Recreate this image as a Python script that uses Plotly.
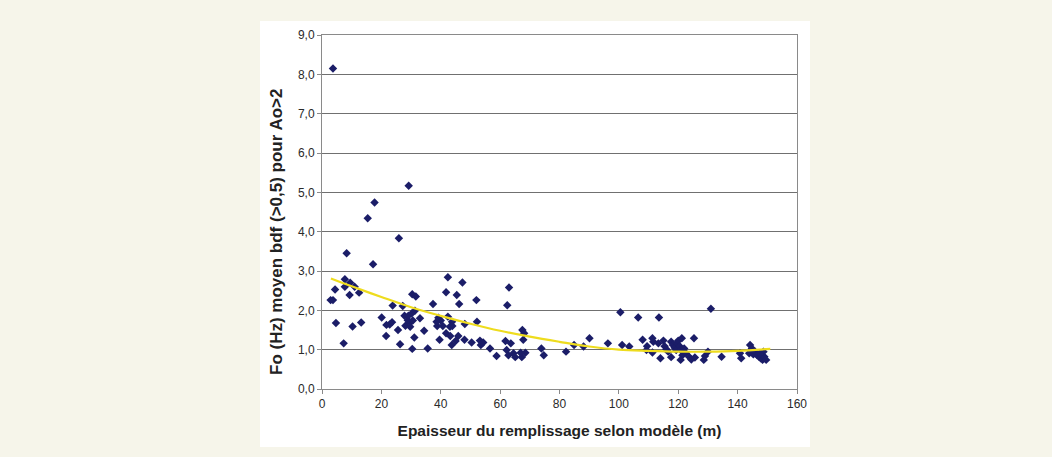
import plotly.graph_objects as go

# Epaisseur du remplissage (m) and Fo (Hz)
thickness = [3.7, 29.2, 17.7, 15.4, 25.9, 8.3, 17.2, 42.4, 47.3, 63.0,
             7.7, 9.5, 11.0, 7.7, 4.4, 12.5, 9.3, 2.9, 3.7, 41.8,
             45.4, 30.4, 31.6, 52.0, 46.2, 37.4, 62.4, 27.2, 23.8, 100.5,
             106.5, 113.5, 131.0, 27.8, 20.1, 4.7, 10.3, 13.2, 21.7, 22.8,
             23.6, 25.6, 21.6, 7.3, 26.3, 30.4, 35.6, 31.1, 28.1, 29.7,
             28.9, 30.6, 31.3, 33.0, 34.4, 29.7, 29.1, 30.2,
             39.2, 40.0, 38.8, 40.7, 38.6, 42.4, 43.8, 43.1, 41.8, 43.2,
             45.9, 39.6, 43.7, 45.0, 43.9, 48.1, 48.0, 50.4, 52.2, 53.2,
             53.5, 54.3, 56.6, 58.8, 61.8, 63.6, 62.2, 62.8, 64.5, 65.1,
             67.5, 68.1, 67.8, 68.5, 67.3, 66.9, 73.9, 74.7, 82.2, 84.9,
             88.1, 90.1, 96.3, 101.1, 103.5, 108.0, 109.5, 109.3, 111.3, 111.6,
             111.3, 114.0, 113.3, 115.0, 115.4, 116.0, 116.6, 117.6, 117.6, 118.2,
             118.8, 119.3, 119.6, 120.0, 120.5, 120.9, 121.4, 120.8, 121.2, 122.0,
             122.6, 123.8, 124.4, 125.3, 125.6, 128.6, 129.0, 130.0, 134.6, 140.8,
             141.2, 144.2, 144.8, 143.9, 145.3, 145.9, 146.6, 147.2, 147.8, 148.4,
             149.0, 149.6, 148.7, 147.5]
fo = [8.15, 5.17, 4.74, 4.34, 3.83, 3.45, 3.17, 2.84, 2.71, 2.58,
      2.79, 2.70, 2.60, 2.60, 2.53, 2.45, 2.39, 2.26, 2.26, 2.46,
      2.39, 2.41, 2.35, 2.26, 2.16, 2.16, 2.13, 2.11, 2.12, 1.95,
      1.82, 1.82, 2.04, 1.86, 1.82, 1.68, 1.59, 1.69, 1.63, 1.64,
      1.70, 1.50, 1.35, 1.16, 1.14, 1.02, 1.03, 1.31, 1.61, 1.69,
      1.75, 1.74, 1.99, 1.80, 1.48, 1.58, 1.86, 1.92,
      1.81, 1.74, 1.60, 1.60, 1.71, 1.84, 1.71, 1.58, 1.42, 1.35,
      1.35, 1.25, 1.12, 1.22, 1.60, 1.65, 1.25, 1.18, 1.71, 1.23,
      1.12, 1.18, 1.03, 0.84, 1.22, 1.16, 0.99, 0.86, 0.91, 0.81,
      1.50, 1.42, 1.25, 0.92, 0.81, 0.92, 1.03, 0.86, 0.95, 1.12,
      1.08, 1.29, 1.16, 1.12, 1.08, 1.25, 1.09, 0.99, 1.29, 1.20,
      0.93, 0.78, 1.16, 1.23, 1.09, 1.01, 0.95, 0.81, 1.20, 1.12,
      1.05, 0.99, 1.16, 1.23, 1.09, 0.99, 0.86, 0.74, 1.29, 1.03,
      0.91, 0.81, 0.75, 1.29, 0.80, 0.74, 0.84, 0.95, 0.82, 0.91,
      0.78, 1.12, 1.03, 0.91, 0.88, 0.95, 0.86, 0.82, 0.78, 0.74,
      0.82, 0.74, 0.95, 0.91]

# Polynomial trendline
trend_x = [3, 10, 20, 30, 40, 50, 60, 70, 80, 90, 100, 110, 120, 130, 140, 151]
trend_y = [2.81, 2.61, 2.34, 2.08, 1.86, 1.66, 1.48, 1.33, 1.20, 1.08,
           1.00, 0.97, 0.95, 0.95, 0.97, 1.02]

x_ticks = [0, 20, 40, 60, 80, 100, 120, 140, 160]
y_ticks = [0, 1, 2, 3, 4, 5, 6, 7, 8, 9]
y_tick_labels = ["0,0", "1,0", "2,0", "3,0", "4,0", "5,0", "6,0", "7,0", "8,0", "9,0"]

W, H = 1052, 457
L, R, T, B = 322, 797, 35, 389
pw, ph = R - L, B - T

fig = go.Figure()
fig.add_trace(go.Scatter(
    x=thickness, y=fo, mode="markers",
    marker=dict(symbol="diamond", size=6.5, color="#1b1d68"),
    showlegend=False,
))
fig.add_trace(go.Scatter(
    x=trend_x, y=trend_y, mode="lines",
    line=dict(color="#eedc1e", width=2.2, shape="spline"),
    showlegend=False,
))

# white card behind the chart
fig.add_shape(type="rect", xref="paper", yref="paper",
              x0=(260 - L) / pw, x1=(810 - L) / pw,
              y0=(B - 447) / ph, y1=(B - 21) / ph,
              fillcolor="white", line=dict(width=0), layer="below")

# y-axis title (placed like the reference, slightly below the plot centre)
fig.add_annotation(
    text="<b>Fo (Hz) moyen bdf (>0,5) pour Ao>2</b>",
    xref="paper", yref="paper",
    x=(277 - L) / pw, y=(B - 232) / ph,
    textangle=-90, showarrow=False, xanchor="center", yanchor="middle",
    font=dict(size=17, color="#222222"),
)

fig.update_layout(
    width=W, height=H,
    margin=dict(l=L, r=W - R, t=T, b=H - B),
    paper_bgcolor="#f6f5ea",
    plot_bgcolor="white",
    font=dict(family="Liberation Sans, Arial, sans-serif", color="#333333"),
    xaxis=dict(
        range=[0, 160], tickvals=x_ticks, ticktext=[str(v) for v in x_ticks],
        showgrid=False, zeroline=False,
        showline=True, linecolor="#8a8a8a", linewidth=1, mirror=True,
        ticks="outside", ticklen=4, tickcolor="#8a8a8a",
        tickfont=dict(size=12, color="#2a2a2a"),
        title=dict(text="<b>Epaisseur du remplissage selon modèle (m)</b>",
                   font=dict(size=15.5, color="#222222"), standoff=14),
    ),
    yaxis=dict(
        range=[0, 9], tickvals=y_ticks, ticktext=y_tick_labels,
        showgrid=True, gridcolor="#707070", gridwidth=1, zeroline=False,
        showline=True, linecolor="#8a8a8a", linewidth=1, mirror=True,
        ticks="outside", ticklen=4, tickcolor="#8a8a8a",
        tickfont=dict(size=12, color="#2a2a2a"),
    ),
)

fig.write_html(
    "out.html",
    config={"displayModeBar": False},
    post_script="document.body.style.margin='0';"
                "document.body.style.overflow='hidden';"
                "document.body.style.background='#f6f5ea';",
)
